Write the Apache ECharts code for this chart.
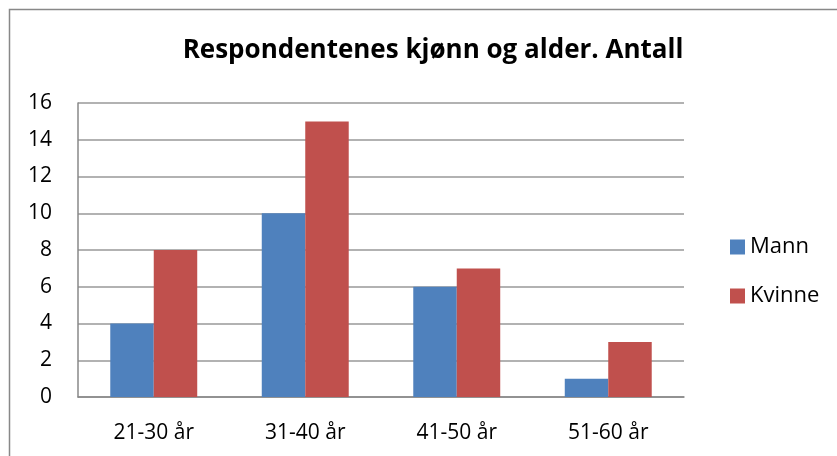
<!DOCTYPE html>
<html>
<head>
<meta charset="utf-8">
<script src="https://cdn.jsdelivr.net/npm/echarts@6/dist/echarts.min.js"></script>
<style>
  html, body { margin: 0; padding: 0; background: #fff; }
  #chart { width: 837px; height: 456px; }
</style>
</head>
<body>
<div id="chart"></div>
<script>
const categories = ["21-30 år", "31-40 år", "41-50 år", "51-60 år"];
const mann = [4, 10, 6, 1];
const kvinne = [8, 15, 7, 3];
const yTicks = { min: 0, max: 16, interval: 2 };

const myChart = echarts.init(document.getElementById("chart"));
const font = "'Open Sans', 'Liberation Sans', sans-serif";

const option = {
  animation: false,
  textStyle: { fontFamily: font },
  title: {
    text: "Respondentenes kjønn og alder. Antall",
    left: 428,
    top: 33,
    textAlign: "center",
    textStyle: { fontSize: 26, fontWeight: "bold", color: "#000", fontFamily: font },
  },
  graphic: [
    {
      type: "rect",
      shape: { x: 9.5, y: 9.5, width: 900, height: 500 },
      style: { fill: "none", stroke: "#888", lineWidth: 1.5 },
      silent: true,
    },
  ],
  legend: {
    orient: "vertical",
    left: 725,
    top: 231,
    itemWidth: 15,
    itemHeight: 15,
    itemGap: 27,
    icon: "rect",
    textStyle: { fontSize: 22, color: "#000", fontFamily: font },
    data: ["Mann", "Kvinne"],
  },
  grid: { left: 78, right: 153, top: 103, bottom: 59 },
  xAxis: {
    type: "category",
    data: categories,
    axisLine: { lineStyle: { color: "#888", width: 1.5 } },
    axisTick: { show: false },
    axisLabel: { fontSize: 21, color: "#000", margin: 26, fontFamily: font },
  },
  yAxis: {
    type: "value",
    min: yTicks.min,
    max: yTicks.max,
    interval: yTicks.interval,
    axisLine: { show: true, lineStyle: { color: "#888", width: 1.5 } },
    axisTick: { show: false },
    splitLine: { lineStyle: { color: "#999", width: 1.5 } },
    axisLabel: { fontSize: 21, color: "#000", margin: 26, fontFamily: font },
  },
  series: [
    {
      name: "Mann",
      type: "bar",
      data: mann,
      barGap: "0%",
      barCategoryGap: "42.6%",
      itemStyle: { color: "#4F81BD" },
    },
    {
      name: "Kvinne",
      type: "bar",
      data: kvinne,
      itemStyle: { color: "#C0504D" },
    },
  ],
};
myChart.setOption(option);
</script>
</body>
</html>
